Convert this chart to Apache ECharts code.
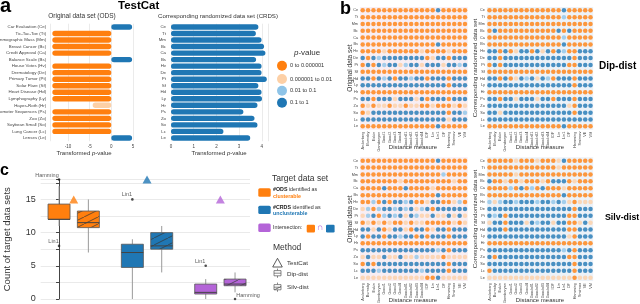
<!DOCTYPE html>
<html><head><meta charset="utf-8">
<script src="https://cdn.jsdelivr.net/npm/echarts@6/dist/echarts.min.js"></script>
<style>html,body{margin:0;padding:0;background:#fff}#c{width:640px;height:304px}</style>
</head><body><div id="c"></div>
<script>
// ---------------- data ----------------
const datasetNames = ['Car Evaluation','Tic-Tac-Toe','Mammographic Mass','Breast Cancer','Credit Approval','Balance Scale','House Votes','Dermatology','Primary Tumor','Solar Flare','Heart Disease','Lymphography','Hayes-Roth','Promoter Sequences','Zoo','Soybean Small','Lung Cancer','Lenses'];
const datasetAbbr = ['Ce','Tt','Mm','Bc','Ca','Bs','Hv','De','Pt','Sf','Hd','Ly','Hr','Ps','Zo','So','Lc','Le'];
// transformed p-values (panel a)
const odsValues = [4.8,-13.6,-13.6,-13.6,-13.6,4.8,-13.6,-13.6,-13.6,-13.6,-13.6,-13.6,-4.3,-13.6,-13.6,-13.6,-13.6,4.8];
const odsClass  = [3,0,0,0,0,3,0,0,0,0,0,0,1,0,0,0,0,3];
const crdsValues = [3.85,3.74,3.99,4.1,4.16,3.75,3.99,3.99,4.22,3.85,3.99,4.01,3.81,3.19,3.68,3.81,2.31,3.49];
const crdsClass  = [3,3,3,3,3,3,3,3,3,3,3,3,3,3,3,3,3,3];
const pClasses = ['0 to 0.000001','0.000001 to 0.01','0.01 to 0.1','0.1 to 1'];
// panel b: distance measures and p-value class per (data set, measure)
const measures = ['Anderberg','Burnaby','Eskin','Gambaryan','Good1','Good2','Good3','Good4','Goodall1','Goodall2','Goodall3','Goodall4','IOF','Lin','Lin1','OF','Hamming','Smirnov','VE','VM'];
const dipODS = ['00000000000000300000','00000000000000000000','00000000000000000000','00000000000000000000','00000000000000000000','00000000000000300000','00001000000100001000','30323333333301330333','03032331233133313323','00000000000000000000','33032303323303330333','33333333333333330333','00000000000000000000','33033313331303330333','01011011011001000101','01333333333333330332','33333333333333331333','00000000000000300000'];
const dipCRDS = ['00000000000000300000','00000000000000200000','00000000000000000000','03000000000003030000','00000000000000200000','00000000000000300000','33030133031303200333','33033333333333330333','03033333333333300333','00000000000000000000','33030132313203330333','33333333333333330333','00000000000000000000','33033133313303330333','33333333333333310333','33133333333333330333','33333333333333333333','00000000000000300000'];
const silvODS = ['00000000000000300000','00000000000000000000','00000000000000020000','00000001000000000100','00003000300001000000','00000000000000300000','00203033230013300120','12023323231230333333','12302323132113113131','01010100101100000101','33130133103301330333','30330332330303330333','00000000000000000000','33333333333333230333','13113113112111101111','03033333333333330333','33323333333233330333','11111111111100311111'];
const silvCRDS = ['00000100010001300000','00000000000001000000','00000100000000000000','30010010001033301000','00002030203000100000','00000000000000300000','21233233323323210111','33333333333333330333','32303333333333300333','13303331323313300131','33303333333333300333','33333333333333310333','00000000000000000000','33333333333333230333','30333333333333300333','33333333333333330333','03333333333333330333','11111111111111110111'];
// panel c: box statistics [min, Q1, median, Q3, max] per target group
const targetGroups = ['ODS','CRDS','Intersection'];
const dipBox  = [[11,12,12,14.3,17],[0,4.75,7,8.25,9],[0,0.75,1,2.25,3]];
const silvBox = [[7,10.75,11.5,13.25,15],[4,7.5,8,10,11],[1,2,2.25,3,4]];
const testCatCount = [15,18,15];
const outlierGroup  = [0,0,1,2,2];
const outlierMethod = [0,0,0,0,1]; // 0 = Dip-dist, 1 = Silv-dist
const outlierValue  = [18,8,15,5,0];
const outlierName   = ['Hamming','Lin1','Lin1','Lin1','Hamming'];

// ---------------- style ----------------
const FONT = "'Liberation Sans', Arial, Helvetica, sans-serif";
const pColors = ['#ff7f0e','#fdd0a6','#8ec4e8','#1f77b4'];
const groupColors = ['#ff7f0e','#1f77b4','#b464d8'];

function makeHatch(color){
  const c = document.createElement('canvas'); c.width = 14; c.height = 7;
  const ctx = c.getContext('2d');
  ctx.fillStyle = color; ctx.fillRect(0,0,14,7);
  ctx.strokeStyle = 'rgba(55,55,55,0.9)'; ctx.lineWidth = 0.8;
  ctx.beginPath();
  ctx.moveTo(-2,8); ctx.lineTo(16,-1);
  ctx.stroke();
  return {image: c, repeat: 'repeat'};
}
const hatch = groupColors.map(makeHatch);
const hatchWhite = makeHatch('#ffffff');

const chart = echarts.init(document.getElementById('c'), null, {renderer:'canvas', width:640, height:304});

const grids = [
  {left:50.6, top:23.7, width:82.4, height:117.5},
  {left:171, top:23.7, width:97.6, height:117.5},
  {left:360, top:6.9, width:107.7, height:122.8, show:true, backgroundColor:'#f8eef3', borderWidth:0},
  {left:486.8, top:6.9, width:106.4, height:122.8, show:true, backgroundColor:'#edf2f8', borderWidth:0},
  {left:360, top:157.3, width:107.7, height:123.8, show:true, backgroundColor:'#f8eef3', borderWidth:0},
  {left:486.8, top:157.3, width:106.4, height:123.8, show:true, backgroundColor:'#edf2f8', borderWidth:0},
  {left:40.7, top:179.5, width:209.3, height:119.5}
].map(g => Object.assign({outerBoundsMode:'none', containLabel:false}, g));

const smallLbl = {fontFamily:FONT, color:'#444'};
const xAxes = [
  {gridIndex:0, type:'value', min:-14, max:5, splitNumber:4, minInterval:5, maxInterval:5,
   axisLine:{show:false}, axisTick:{show:false},
   axisLabel:Object.assign({fontSize:4.5, margin:3, formatter:v => (v % 5 === 0 ? String(v) : '')}, smallLbl),
   splitLine:{lineStyle:{color:'#e6e6e6', width:0.8}}},
  {gridIndex:1, type:'value', min:0, max:4.3, interval:1,
   axisLine:{show:false}, axisTick:{show:false},
   axisLabel:Object.assign({fontSize:4.5, margin:3, formatter:v => (Number.isInteger(v) ? String(v) : '')}, smallLbl),
   splitLine:{lineStyle:{color:'#e6e6e6', width:0.8}}}
];
const yAxes = [
  {gridIndex:0, type:'category', inverse:true, data:datasetNames.map((n,i)=>n+' ('+datasetAbbr[i]+')'),
   axisLine:{show:false}, axisTick:{show:false},
   axisLabel:Object.assign({fontSize:4.4, margin:4.5, interval:0}, smallLbl)},
  {gridIndex:1, type:'category', inverse:true, data:datasetAbbr,
   axisLine:{show:false}, axisTick:{show:false},
   axisLabel:Object.assign({fontSize:4.4, margin:5, interval:0}, smallLbl)}
];
for (let k = 0; k < 4; k++) {
  xAxes.push({gridIndex:2+k, type:'category', data:measures, axisLine:{show:false}, axisTick:{show:false},
    axisLabel:Object.assign({fontSize:3.8, rotate:90, margin:2, interval:0}, smallLbl), splitLine:{show:false}});
  yAxes.push({gridIndex:2+k, type:'category', inverse:true, data:datasetAbbr, axisLine:{show:false}, axisTick:{show:false},
    axisLabel:Object.assign({fontSize:3.8, margin:2, interval:0}, smallLbl), splitLine:{show:false}});
}
xAxes.push({gridIndex:6, type:'value', min:-1.25, max:13.02, show:false, splitLine:{show:false}});
yAxes.push({gridIndex:6, type:'value', min:0, max:18, interval:2.5,
  name:'Count of target data sets', nameLocation:'middle', nameGap:28,
  nameTextStyle:{fontSize:9.5, fontFamily:FONT, color:'#333'},
  axisLine:{show:true, lineStyle:{color:'#444', width:1}},
  axisTick:{show:true, length:3, lineStyle:{color:'#444'}, interval:(i,v)=>true},
  axisLabel:{fontSize:9, fontFamily:FONT, color:'#333', margin:5, formatter:v => (v % 5 === 0 ? String(v) : '')},
  splitLine:{show:true, lineStyle:{color:'#e4e4e4', width:0.8}}});

const series = [];
series.push({type:'bar', xAxisIndex:0, yAxisIndex:0, data:odsValues, barWidth:5.4,
  itemStyle:{borderRadius:2.7, color:p => pColors[odsClass[p.dataIndex]]}});
series.push({type:'bar', xAxisIndex:1, yAxisIndex:1, data:crdsValues, barWidth:5.4,
  itemStyle:{borderRadius:2.7, color:p => pColors[crdsClass[p.dataIndex]]}});

[dipODS, dipCRDS, silvODS, silvCRDS].forEach((mat, k) => {
  const pts = [];
  mat.forEach((row, r) => { for (let c = 0; c < measures.length; c++) pts.push([c, r, +row[c]]); });
  series.push({type:'scatter', xAxisIndex:2+k, yAxisIndex:2+k, data:pts, symbolSize:4.5,
    itemStyle:{color:p => pColors[p.value[2]]}});
});

// panel c
const boxData = [];
targetGroups.forEach((g, gi) => {
  boxData.push([gi*5 + 0].concat(dipBox[gi], [gi, 0]));
  boxData.push([gi*5 + 2].concat(silvBox[gi], [gi, 1]));
});
function boxRender(params, api) {
  const x = api.value(0);
  const g = api.value(6), m = api.value(7);
  const pMin = api.coord([x, api.value(1)]), pQ1 = api.coord([x, api.value(2)]);
  const pMed = api.coord([x, api.value(3)]), pQ3 = api.coord([x, api.value(4)]);
  const pMax = api.coord([x, api.value(5)]);
  const hw = api.size([0.75, 0])[0];
  const cx = pMin[0];
  return {type:'group', children:[
    {type:'line', shape:{x1:cx, y1:pMin[1], x2:cx, y2:pQ1[1]}, style:{stroke:'#9a9a9a', lineWidth:1}},
    {type:'line', shape:{x1:cx, y1:pQ3[1], x2:cx, y2:pMax[1]}, style:{stroke:'#9a9a9a', lineWidth:1}},
    {type:'rect', shape:{x:cx-hw, y:pQ3[1], width:2*hw, height:pQ1[1]-pQ3[1]},
     style:{fill: m === 1 ? hatch[g] : groupColors[g], stroke:'#555', lineWidth:0.8}},
    {type:'line', shape:{x1:cx-hw, y1:pMed[1], x2:cx+hw, y2:pMed[1]}, style:{stroke:'#444', lineWidth:1}}
  ]};
}
series.push({type:'custom', xAxisIndex:6, yAxisIndex:6, renderItem:boxRender, data:boxData,
  encode:{x:0, y:[1,2,3,4,5]}, z:3});
series.push({type:'scatter', xAxisIndex:6, yAxisIndex:6, symbol:'triangle', symbolSize:[9,8], z:4,
  data:testCatCount.map((v, gi) => ({value:[gi*5+1, v], itemStyle:{color:groupColors[gi]}}))});
series.push({type:'scatter', xAxisIndex:6, yAxisIndex:6, symbolSize:2.6, z:5, itemStyle:{color:'#222'},
  data:outlierValue.map((v, i) => ({value:[outlierGroup[i]*5 + outlierMethod[i]*2, v], name:outlierName[i],
    label:{show:true, formatter:'{b}', fontSize:5.5, fontFamily:FONT, color:'#333',
      position: outlierMethod[i] === 0 ? 'left' : 'right', distance:0,
      offset: outlierMethod[i] === 0 ? [1,-4.5] : [0,-4]}}))});

// ---------------- graphic texts ----------------
const G = [];
function T(x, y, text, st, rot) {
  const s = Object.assign({text, fontSize:6, fontFamily:FONT, fill:'#333', align:'left', textAlign:'left',
    verticalAlign:'middle', textVerticalAlign:'middle'}, st || {});
  if (s.align) s.textAlign = s.align;
  G.push({type:'text', x, y, rotation: rot || 0, style:s, z:10});
}
const B = {fontWeight:'bold', fill:'#000'};
T(0, 6.6, 'a', Object.assign({fontSize:20}, B));
T(118, 6.2, 'TestCat', Object.assign({fontSize:11.5}, B));
T(82, 16, 'Original data set (ODS)', {align:'center', fontSize:6.5});
T(218, 16, 'Corresponding randomized data set (CRDS)', {align:'center', fontSize:6.1});
const ital = {i:{fontStyle:'italic', fontSize:6, fontFamily:FONT, fill:'#333'}};
T(84, 153, 'Transformed {i|p}-value', {align:'center', fontSize:6, rich:ital});
T(219, 153, 'Transformed {i|p}-value', {align:'center', fontSize:6, rich:ital});
T(294, 53, '{i|p}-value', {fontSize:8, rich:{i:{fontStyle:'italic', fontSize:8, fontFamily:FONT, fill:'#333'}}});
const legY = [65.7, 79, 90.7, 102.7];
pClasses.forEach((c, i) => {
  G.push({type:'circle', shape:{cx:282, cy:legY[i], r:5}, style:{fill:pColors[i]}, z:10});
  T(290, legY[i], c, {fontSize:5.6});
});
T(340, 9, 'b', Object.assign({fontSize:18}, B));
T(599, 66.5, 'Dip-dist', Object.assign({fontSize:10}, B));
T(605, 218, 'Silv-dist', Object.assign({fontSize:8.8}, B));
[[68, 0], [219, 1]].forEach(([cy]) => {
  T(350, cy, 'Original data set', {align:'center', fontSize:6.5}, Math.PI/2);
  T(475.5, cy, 'Corresponding randomized data set', {align:'center', fontSize:6.2}, Math.PI/2);
});
T(413, 147.5, 'Distance measure', {align:'center', fontSize:6});
T(540, 147.5, 'Distance measure', {align:'center', fontSize:6});
T(413, 300, 'Distance measure', {align:'center', fontSize:6});
T(540, 300, 'Distance measure', {align:'center', fontSize:6});
T(0, 171, 'c', Object.assign({fontSize:16}, B));
// panel c legend
T(272, 179, 'Target data set', {fontSize:8.5});
G.push({type:'rect', shape:{x:258.3, y:188.3, width:12.4, height:8.4, r:1.5}, style:{fill:groupColors[0]}, z:10});
G.push({type:'rect', shape:{x:258.3, y:205.7, width:12.4, height:8.4, r:1.5}, style:{fill:groupColors[1]}, z:10});
G.push({type:'rect', shape:{x:258.3, y:223.5, width:12.4, height:8.4, r:1.5}, style:{fill:groupColors[2]}, z:10});
T(273, 193.2, '{b|#ODS} identified as\n{o|clusterable}', {fontSize:5.3, lineHeight:6.6,
  rich:{b:{fontWeight:'bold', fontSize:5.3, fontFamily:FONT, fill:'#222'}, o:{fontWeight:'bold', fontSize:5.3, fontFamily:FONT, fill:groupColors[0]}}});
T(273, 210.5, '{b|#CRDS} identified as\n{o|unclusterable}', {fontSize:5.3, lineHeight:6.6,
  rich:{b:{fontWeight:'bold', fontSize:5.3, fontFamily:FONT, fill:'#222'}, o:{fontWeight:'bold', fontSize:5.3, fontFamily:FONT, fill:groupColors[1]}}});
T(273, 228, 'Intersection:', {fontSize:5.4});
G.push({type:'rect', shape:{x:306.7, y:224.8, width:8.3, height:7.6, r:1.2}, style:{fill:groupColors[0]}, z:10});
T(320, 228, '∩', {align:'center', fontSize:9, fill:groupColors[2], fontWeight:'bold'});
G.push({type:'rect', shape:{x:326, y:224.8, width:8.6, height:7.6, r:1.2}, style:{fill:groupColors[1]}, z:10});
T(273, 248, 'Method', {fontSize:8.5});
G.push({type:'polygon', shape:{points:[[277.5,258.3],[282.3,267],[272.7,267]]}, style:{fill:'none', stroke:'#333', lineWidth:0.8}, z:10});
T(287, 263, 'TestCat', {fontSize:6.2});
[[273.2, 0], [287.2, 1]].forEach(([cy, m]) => {
  G.push({type:'line', shape:{x1:277.5, y1:cy-4.6, x2:277.5, y2:cy-2.6}, style:{stroke:'#555', lineWidth:0.7}, z:10});
  G.push({type:'line', shape:{x1:277.5, y1:cy+2.6, x2:277.5, y2:cy+4.6}, style:{stroke:'#555', lineWidth:0.7}, z:10});
  G.push({type:'rect', shape:{x:274, y:cy-2.6, width:7, height:5.2}, style:{fill: m ? hatchWhite : '#fff', stroke:'#555', lineWidth:0.7}, z:10});
  G.push({type:'line', shape:{x1:274, y1:cy, x2:281, y2:cy}, style:{stroke:'#555', lineWidth:0.7}, z:11});
});
T(287, 274, 'Dip-dist', {fontSize:6.2});
T(287, 287, 'Silv-dist', {fontSize:6.2});

chart.setOption({
  animation:false,
  backgroundColor:'#ffffff',
  textStyle:{fontFamily:FONT},
  grid:grids, xAxis:xAxes, yAxis:yAxes, series:series, graphic:{elements:G}
});
</script></body></html>
